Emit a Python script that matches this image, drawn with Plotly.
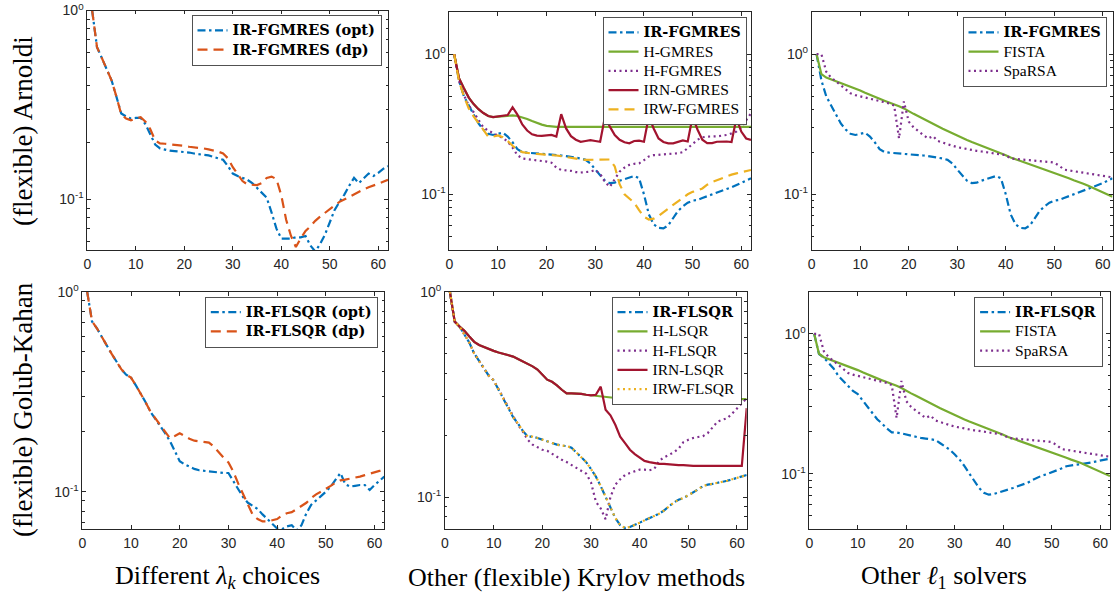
import plotly.graph_objects as go

# ---------------- data (relative error vs. iteration) ----------------
iters = list(range(1, 63))

# Panel 1: Arnoldi, different lambda choices
p1_opt = [1.0, 0.64, 0.56, 0.49, 0.427, 0.35, 0.285, 0.275, 0.268, 0.27,
          0.27, 0.25, 0.22, 0.195, 0.186, 0.183, 0.181, 0.18, 0.179, 0.179,
          0.177, 0.175, 0.173, 0.172, 0.171, 0.168, 0.165, 0.162, 0.15, 0.137,
          0.133, 0.13, 0.127, 0.122, 0.115, 0.108, 0.102, 0.085, 0.07, 0.062,
          0.062, 0.062, 0.063, 0.063, 0.064, 0.057, 0.053, 0.058, 0.065, 0.076,
          0.088, 0.097, 0.106, 0.118, 0.13, 0.122, 0.13, 0.137, 0.133, 0.138,
          0.145, 0.15]
p1_dp = [1.0, 0.64, 0.56, 0.49, 0.427, 0.35, 0.282, 0.268, 0.262, 0.268,
         0.272, 0.258, 0.235, 0.205, 0.198, 0.197, 0.196, 0.195, 0.193, 0.192,
         0.19, 0.189, 0.187, 0.186, 0.184, 0.182, 0.179, 0.175, 0.165, 0.148,
         0.135, 0.125, 0.12, 0.119, 0.119, 0.122, 0.13, 0.132, 0.128, 0.105,
         0.078, 0.064, 0.056, 0.062, 0.068, 0.072, 0.077, 0.081, 0.085, 0.089,
         0.093, 0.097, 0.1, 0.104, 0.107, 0.11, 0.113, 0.116, 0.119, 0.121,
         0.124, 0.127]

# Panels 2-3: Arnoldi-based comparisons
ir_fgmres = [1.0, 0.65, 0.50, 0.43, 0.37, 0.32, 0.29, 0.27, 0.265, 0.27,
             0.275, 0.258, 0.235, 0.21, 0.20, 0.198, 0.197, 0.196, 0.195, 0.194,
             0.192, 0.19, 0.189, 0.187, 0.185, 0.183, 0.18, 0.176, 0.166, 0.15,
             0.137, 0.125, 0.12, 0.121, 0.125, 0.128, 0.132, 0.135, 0.13, 0.1,
             0.072, 0.061, 0.0575, 0.057, 0.06, 0.068, 0.076, 0.082, 0.087, 0.09,
             0.091, 0.094, 0.097, 0.1, 0.103, 0.106, 0.109, 0.112, 0.116, 0.12,
             0.125, 0.13]
h_gmres = [1.0, 0.674, 0.572, 0.49, 0.44, 0.405, 0.38, 0.362, 0.355, 0.358,
           0.362, 0.366, 0.366, 0.362, 0.355, 0.345, 0.333, 0.322, 0.314, 0.308,
           0.305, 0.303, 0.303, 0.303, 0.303, 0.303, 0.303, 0.303, 0.303, 0.303,
           0.303, 0.303, 0.303, 0.303, 0.303, 0.303, 0.303, 0.303, 0.303, 0.303,
           0.303, 0.303, 0.303, 0.303, 0.303, 0.303, 0.303, 0.303, 0.303, 0.303,
           0.303, 0.303, 0.303, 0.303, 0.303, 0.303, 0.303, 0.303, 0.303, 0.303,
           0.303, 0.303]
h_fgmres = [1.0, 0.64, 0.51, 0.43, 0.385, 0.34, 0.30, 0.285, 0.272, 0.262,
            0.252, 0.238, 0.215, 0.19, 0.18, 0.178, 0.177, 0.176, 0.173, 0.171,
            0.168, 0.155, 0.149, 0.148, 0.147, 0.144, 0.143, 0.144, 0.145, 0.149,
            0.14, 0.122, 0.113, 0.128, 0.145, 0.155, 0.162, 0.165, 0.166, 0.175,
            0.186, 0.19, 0.192, 0.193, 0.194, 0.195, 0.196, 0.2, 0.212, 0.228,
            0.245, 0.255, 0.258, 0.258, 0.259, 0.262, 0.265, 0.272, 0.28, 0.3,
            0.335, 0.379]
irn_gmres = [1.0, 0.674, 0.572, 0.49, 0.44, 0.405, 0.38, 0.362, 0.355, 0.358,
             0.362, 0.368, 0.418, 0.37, 0.315, 0.285, 0.268, 0.262, 0.261, 0.263,
             0.265, 0.258, 0.373, 0.295, 0.26, 0.245, 0.237, 0.24, 0.243, 0.24,
             0.237, 0.359, 0.304, 0.265, 0.245, 0.235, 0.231, 0.24, 0.241, 0.237,
             0.359, 0.295, 0.25, 0.236, 0.231, 0.231, 0.235, 0.242, 0.238, 0.359,
             0.29, 0.245, 0.232, 0.232, 0.237, 0.238, 0.238, 0.236, 0.349, 0.28,
             0.25, 0.244]
irw_fgmres = [1.0, 0.64, 0.5, 0.41, 0.36, 0.32, 0.288, 0.258, 0.258, 0.263,
              0.255, 0.24, 0.222, 0.208, 0.2, 0.197, 0.195, 0.194, 0.193, 0.193,
              0.191, 0.189, 0.187, 0.184, 0.181, 0.178, 0.177, 0.176, 0.176, 0.177,
              0.178, 0.178, 0.177, 0.158, 0.118, 0.1, 0.093, 0.087, 0.077, 0.069,
              0.066, 0.067, 0.07, 0.074, 0.079, 0.084, 0.089, 0.095, 0.1, 0.104,
              0.106, 0.11, 0.117, 0.122, 0.126, 0.13, 0.134, 0.138, 0.141, 0.144,
              0.147, 0.149]

# l1 solvers (panels 3 and 6)
fista = [1.0, 0.72, 0.68, 0.66, 0.64, 0.62, 0.605, 0.59, 0.57, 0.55,
         0.53, 0.515, 0.495, 0.48, 0.465, 0.452, 0.44, 0.425, 0.41, 0.39,
         0.375, 0.36, 0.345, 0.332, 0.318, 0.305, 0.294, 0.283, 0.272, 0.262,
         0.253, 0.244, 0.236, 0.229, 0.222, 0.215, 0.208, 0.202, 0.195, 0.19,
         0.183, 0.178, 0.173, 0.168, 0.163, 0.159, 0.155, 0.151, 0.146, 0.142,
         0.138, 0.134, 0.13, 0.126, 0.123, 0.119, 0.115, 0.111, 0.107, 0.103,
         0.1, 0.096]
sparsa = [1.0, 1.0, 0.75, 0.68, 0.64, 0.6, 0.56, 0.525, 0.51, 0.5,
          0.49, 0.48, 0.47, 0.46, 0.45, 0.445, 0.43, 0.25, 0.46, 0.33,
          0.3, 0.28, 0.265, 0.25, 0.26, 0.24, 0.233, 0.228, 0.222, 0.217,
          0.213, 0.21, 0.207, 0.204, 0.202, 0.2, 0.198, 0.196, 0.194, 0.19,
          0.18, 0.178, 0.177, 0.176, 0.175, 0.173, 0.172, 0.171, 0.17, 0.168,
          0.16, 0.15, 0.148, 0.146, 0.145, 0.143, 0.141, 0.139, 0.137, 0.135,
          0.133, 0.132]

# Panel 4: Golub-Kahan, different lambda choices
p4_opt = [1.0, 0.71, 0.656, 0.6, 0.54, 0.49, 0.45, 0.41, 0.385, 0.372,
          0.34, 0.31, 0.28, 0.251, 0.232, 0.215, 0.196, 0.179, 0.16, 0.142,
          0.137, 0.133, 0.13, 0.128, 0.127, 0.126, 0.125, 0.124, 0.124, 0.124,
          0.113, 0.103, 0.094, 0.088, 0.085, 0.082, 0.077, 0.073, 0.069, 0.0655,
          0.065, 0.067, 0.068, 0.064, 0.068, 0.078, 0.086, 0.09, 0.095, 0.1,
          0.106, 0.115, 0.124, 0.109, 0.106, 0.107, 0.108, 0.108, 0.102, 0.108,
          0.114, 0.119]
p4_dp = [1.0, 0.71, 0.656, 0.6, 0.54, 0.49, 0.45, 0.41, 0.385, 0.372,
         0.34, 0.31, 0.28, 0.251, 0.232, 0.215, 0.198, 0.185, 0.19, 0.196,
         0.19, 0.184, 0.18, 0.179, 0.178, 0.176, 0.168, 0.157, 0.148, 0.14,
         0.126, 0.11, 0.097, 0.085, 0.0765, 0.073, 0.071, 0.071, 0.0717, 0.073,
         0.076, 0.078, 0.079, 0.082, 0.085, 0.088, 0.093, 0.097, 0.1, 0.103,
         0.107, 0.111, 0.114, 0.115, 0.116, 0.117, 0.119, 0.121, 0.123, 0.125,
         0.127, 0.128]

# Panels 5-6: Golub-Kahan-based comparisons
ir_flsqr = [1.0, 0.715, 0.676, 0.62, 0.565, 0.5, 0.46, 0.42, 0.39, 0.37,
            0.335, 0.3, 0.27, 0.245, 0.228, 0.21, 0.197, 0.197, 0.194, 0.19,
            0.186, 0.183, 0.18, 0.178, 0.177, 0.174, 0.165, 0.157, 0.148, 0.137,
            0.126, 0.113, 0.1, 0.088, 0.079, 0.073, 0.0707, 0.0715, 0.073, 0.075,
            0.077, 0.079, 0.081, 0.083, 0.086, 0.09, 0.094, 0.097, 0.099, 0.102,
            0.105, 0.109, 0.113, 0.115, 0.116, 0.117, 0.118, 0.12, 0.122, 0.124,
            0.126, 0.128]
irw_flsqr = ir_flsqr
irn_lsqr = [1.0, 0.715, 0.676, 0.645, 0.605, 0.57, 0.55, 0.537, 0.526, 0.515,
            0.506, 0.498, 0.49, 0.483, 0.47, 0.458, 0.445, 0.433, 0.418, 0.395,
            0.373, 0.364, 0.35, 0.333, 0.32, 0.32, 0.32, 0.318, 0.315, 0.313,
            0.315, 0.345, 0.266, 0.25, 0.225, 0.197, 0.183, 0.17, 0.162, 0.156,
            0.15, 0.148, 0.146, 0.145, 0.145, 0.144, 0.144, 0.143, 0.143, 0.142,
            0.142, 0.142, 0.142, 0.142, 0.142, 0.142, 0.142, 0.142, 0.142, 0.142,
            0.142, 0.271]
h_lsqr = [1.0, 0.715, 0.676, 0.645, 0.605, 0.57, 0.55, 0.537, 0.526, 0.515,
          0.506, 0.498, 0.49, 0.483, 0.47, 0.458, 0.445, 0.433, 0.418, 0.395,
          0.373, 0.364, 0.35, 0.333, 0.32, 0.32, 0.32, 0.318, 0.315, 0.313,
          0.312, 0.309, 0.306, 0.304, 0.303, 0.302, 0.302, 0.301, 0.301, 0.3,
          0.3, 0.3, 0.3, 0.3, 0.3, 0.3, 0.3, 0.3, 0.3, 0.3,
          0.3, 0.3, 0.3, 0.3, 0.3, 0.3, 0.3, 0.3, 0.3, 0.3,
          0.3, 0.3]
h_flsqr = [1.0, 0.715, 0.676, 0.62, 0.565, 0.5, 0.46, 0.42, 0.39, 0.37,
           0.335, 0.3, 0.27, 0.245, 0.225, 0.208, 0.19, 0.18, 0.175, 0.17,
           0.168, 0.162, 0.157, 0.152, 0.148, 0.143, 0.138, 0.134, 0.13, 0.118,
           0.095, 0.088, 0.078, 0.1, 0.115, 0.122, 0.128, 0.131, 0.134, 0.136,
           0.136, 0.135, 0.137, 0.15, 0.156, 0.161, 0.165, 0.172, 0.185, 0.19,
           0.194, 0.196, 0.198, 0.205, 0.22, 0.233, 0.238, 0.242, 0.255, 0.27,
           0.285, 0.303]

x_tick_vals = [0, 10, 20, 30, 40, 50, 60]
y_tick_vals = [0.1, 1]
y_tick_text = ["10<sup>-1</sup>", "10<sup>0</sup>"]

col_labels = ["Different <i>λ</i><sub><i>k</i></sub> choices",
              "Other (flexible) Krylov methods",
              "Other <i>ℓ</i><sub>1</sub> solvers"]
row_labels = ["(flexible) Arnoldi", "(flexible) Golub-Kahan"]

# ---------------- styling ----------------
W, H = 1114, 593
BLUE, ORANGE, YELLOW = "#0072BD", "#D95319", "#EDB120"
PURPLE, GREEN, RED = "#7E2F8E", "#77AC30", "#A2142F"
AX = "#262626"
DASHDOT = "8px,3.5px,2.5px,3.5px"
DASH = "10px,6px"
DOT = "2px,3.5px"
LW = 2.2

# panel geometry in pixels: (left, right, top, bottom), y range (log10)
panels = [
    (87.3, 388.0, 10.5, 250.0, [-1.268, 0.0]),
    (449.3, 751.0, 12.0, 250.0, [-1.398, 0.301]),
    (811.7, 1112.5, 12.0, 250.0, [-1.398, 0.301]),
    (82.3, 384.3, 291.7, 529.3, [-1.188, 0.0]),
    (445.0, 746.7, 291.7, 529.3, [-1.157, 0.0]),
    (809.3, 1110.0, 291.7, 529.3, [-1.398, 0.301]),
]
legend_pos = [(381.7, 15.0), (746.7, 17.0), (1106.7, 17.0),
              (378.0, 296.7), (741.7, 296.7), (1103.3, 296.7)]

# (panel, label, bold, values, colour, dash)
series = [
    (1, "IR-FGMRES (opt)", True, p1_opt, BLUE, DASHDOT),
    (1, "IR-FGMRES (dp)", True, p1_dp, ORANGE, DASH),
    (2, "IR-FGMRES", True, ir_fgmres, BLUE, DASHDOT),
    (2, "H-GMRES", False, h_gmres, GREEN, "solid"),
    (2, "H-FGMRES", False, h_fgmres, PURPLE, DOT),
    (2, "IRN-GMRES", False, irn_gmres, RED, "solid"),
    (2, "IRW-FGMRES", False, irw_fgmres, YELLOW, DASH),
    (3, "IR-FGMRES", True, ir_fgmres, BLUE, DASHDOT),
    (3, "FISTA", False, fista, GREEN, "solid"),
    (3, "SpaRSA", False, sparsa, PURPLE, DOT),
    (4, "IR-FLSQR (opt)", True, p4_opt, BLUE, DASHDOT),
    (4, "IR-FLSQR (dp)", True, p4_dp, ORANGE, DASH),
    (5, "IR-FLSQR", True, ir_flsqr, BLUE, DASHDOT),
    (5, "H-LSQR", False, h_lsqr, GREEN, "solid"),
    (5, "H-FLSQR", False, h_flsqr, PURPLE, DOT),
    (5, "IRN-LSQR", False, irn_lsqr, RED, "solid"),
    (5, "IRW-FLSQR", False, irw_flsqr, YELLOW, DOT),
    (6, "IR-FLSQR", True, ir_flsqr, BLUE, DASHDOT),
    (6, "FISTA", False, fista, GREEN, "solid"),
    (6, "SpaRSA", False, sparsa, PURPLE, DOT),
]

LEG_ROW_FONT = 12.5  # font size that sets legend row spacing


def legend_label(text, bold):
    if bold:
        return ("<span style=\"font-family:'DejaVu Serif';font-size:14.5px\">"
                "<b>%s</b></span>" % text)
    return "<span style=\"font-size:15.5px\">%s</span>" % text


fig = go.Figure()
for p, name, bold, vals, color, dash in series:
    sfx = "" if p == 1 else str(p)
    fig.add_trace(go.Scatter(
        x=iters, y=vals, mode="lines",
        name=legend_label(name, bold),
        line=dict(color=color, width=LW, dash=dash),
        xaxis="x" + sfx, yaxis="y" + sfx,
        legend="legend" + sfx, showlegend=True,
    ))

minor_vals = [0.04, 0.05, 0.06, 0.07, 0.08, 0.09,
              0.2, 0.3, 0.4, 0.5, 0.6, 0.7, 0.8, 0.9, 2]

layout = dict(
    width=W, height=H, autosize=False,
    margin=dict(l=0, r=0, t=0, b=0, pad=0, autoexpand=False),
    paper_bgcolor="white", plot_bgcolor="white",
    font=dict(family="Liberation Sans, Arial, sans-serif", color=AX),
)

tickfont = dict(family="Liberation Sans, Arial, sans-serif", size=14, color=AX)
for i, (l, r, t, b, yr) in enumerate(panels, start=1):
    sfx = "" if i == 1 else str(i)
    layout["xaxis" + sfx] = dict(
        domain=[l / W, r / W], anchor="y" + sfx, range=[0, 62],
        tickmode="array", tickvals=x_tick_vals, automargin=False,
        ticks="inside", ticklen=4, tickwidth=0.8, tickcolor=AX,
        showline=True, linecolor=AX, linewidth=0.8, mirror="ticks",
        showgrid=False, zeroline=False, tickfont=tickfont,
        ticklabelstandoff=1,
    )
    layout["yaxis" + sfx] = dict(
        domain=[1 - b / H, 1 - t / H], anchor="x" + sfx, type="log", range=yr,
        tickmode="array", tickvals=y_tick_vals, ticktext=y_tick_text,
        automargin=False,
        ticks="inside", ticklen=4, tickwidth=0.8, tickcolor=AX,
        minor=dict(tickmode="array", tickvals=minor_vals, ticks="inside",
                   ticklen=2.5, tickwidth=0.8, tickcolor=AX, showgrid=False),
        showline=True, linecolor=AX, linewidth=0.8, mirror="ticks",
        showgrid=False, zeroline=False, tickfont=tickfont,
    )
    lx, ly = legend_pos[i - 1]
    layout["legend" + sfx] = dict(
        x=lx / W, y=1 - ly / H, xanchor="right", yanchor="top",
        bgcolor="white", bordercolor=AX, borderwidth=0.8,
        font=dict(family="Liberation Serif, Times New Roman, serif",
                  size=LEG_ROW_FONT, color="black"),
        tracegroupgap=0, itemwidth=30,
    )

annotations = []
col_centers = [217.5, 576.5, 944.0]
for cx, txt in zip(col_centers, col_labels):
    annotations.append(dict(
        text=txt, x=cx / W, y=1 - 577 / H, xref="paper", yref="paper",
        xanchor="center", yanchor="middle", showarrow=False,
        font=dict(family="Liberation Serif, DejaVu Serif, serif", size=26,
                  color="black"),
    ))
row_centers = [131.0, 410.0]
for cy, txt in zip(row_centers, row_labels):
    annotations.append(dict(
        text=txt, x=23 / W, y=1 - cy / H, xref="paper", yref="paper",
        xanchor="center", yanchor="middle", showarrow=False, textangle=-90,
        font=dict(family="Liberation Serif, DejaVu Serif, serif", size=27,
                  color="black"),
    ))
layout["annotations"] = annotations

fig.update_layout(**layout)
fig.write_html("out.html",
               config={"displayModeBar": False},
               post_script="document.body.style.margin='0px';"
                           "document.body.style.overflow='hidden';")
